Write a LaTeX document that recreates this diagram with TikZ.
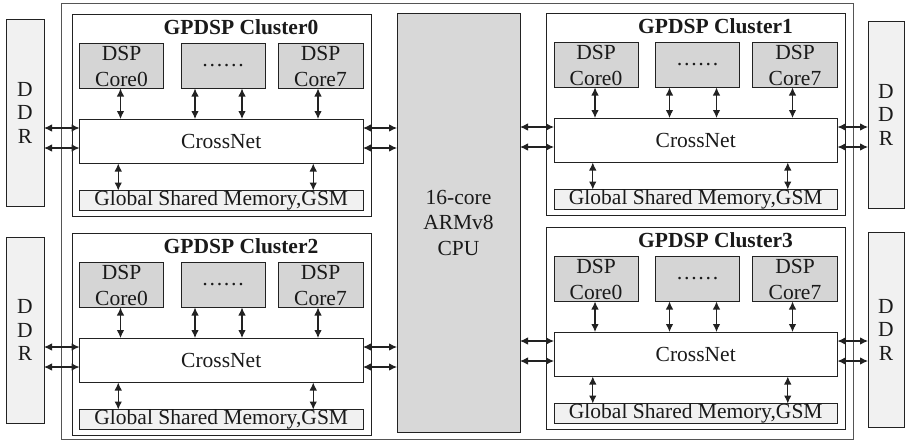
\documentclass[tikz,border=0pt]{standalone}
\usepackage{fontspec}
\setmainfont{Liberation Serif}
\usetikzlibrary{arrows.meta,calc}
\definecolor{linec}{HTML}{222222}
\definecolor{outerc}{HTML}{555555}
\definecolor{coreg}{HTML}{D5D5D5}
\definecolor{cpug}{HTML}{D8D8D8}
\definecolor{gsmg}{HTML}{F1F1F1}
\definecolor{ddrg}{HTML}{F1F1F1}
\definecolor{textc}{HTML}{1A1A1A}
\tikzset{
  box/.style={draw=linec, line width=1pt, inner sep=0pt, outer sep=0pt, text=textc},
  outerbox/.style={box, draw=outerc, fill=white},
  clusterbox/.style={box, fill=white},
  corebox/.style={box, fill=coreg, align=center, font=\fontsize{21.5}{26}\selectfont},
  cnbox/.style={box, fill=white},
  gsmbox/.style={box, fill=gsmg},
  ddrbox/.style={box, fill=ddrg, align=center, font=\fontsize{21.5}{23.5}\selectfont},
  cpubox/.style={box, fill=cpug, align=center, font=\fontsize{21.5}{25.5}\selectfont},
  titletext/.style={inner sep=0pt, outer sep=0pt, text=textc, font=\fontsize{21.5}{24}\bfseries\selectfont},
  arr/.style={{Latex[length=8pt,width=7.5pt]}-{Latex[length=8pt,width=7.5pt]}, draw=linec, line width=1.1pt},
}
\newcommand\mybox[7]{%
  \pgfmathsetmacro\bxw{(#4)-(#2)}%
  \pgfmathsetmacro\bxh{(#5)-(#3)}%
  \pgfmathsetmacro\bxcx{((#2)+(#4))/2}%
  \pgfmathsetmacro\bxcy{((#3)+(#5))/2}%
  \node[#6, minimum width=\bxw pt, minimum height=\bxh pt] (#1) at (\bxcx,\bxcy) {#7};%
}
% #1 id, #2 left x, #3 top y, #4 number
\newcommand\clusterblk[4]{%
  \mybox{#1}{#2}{#3}{#2+299}{#3+202}{clusterbox}{}
  \pgfmathsetmacro\tx{#2+169}\pgfmathsetmacro\ty{#3+20.5}%
  \node[titletext, anchor=base] (#1-t) at (\tx,\ty) {GPDSP Cluster#4};
  \mybox{#1-k0}{#2+7.5}{#3+29.5}{#2+91.5}{#3+74.5}{corebox}{DSP\\Core0}
  \mybox{#1-kd}{#2+109}{#3+29.5}{#2+193}{#3+74.5}{corebox}{……}
  \mybox{#1-k7}{#2+206}{#3+29.5}{#2+291}{#3+74.5}{corebox}{DSP\\Core7}
  \mybox{#1-cn}{#2+7.5}{#3+105}{#2+291}{#3+149.5}{cnbox}{CrossNet}
  \mybox{#1-gsm}{#2+7.5}{#3+176.5}{#2+291}{#3+196.5}{gsmbox}{Global Shared Memory,GSM}
  \coordinate (#1-v0) at ([xshift=-1pt]#1-k0.south);
  \coordinate (#1-v1) at ([xshift=-28pt]#1-kd.south);
  \coordinate (#1-v2) at ([xshift=19pt]#1-kd.south);
  \coordinate (#1-v3) at ([xshift=-2.5pt]#1-k7.south);
  \foreach \v in {v0,v1,v2,v3} {\draw[arr] (#1-\v) -- (#1-\v |- #1-cn.north);}
  \coordinate (#1-g1) at ([xshift=-103pt]#1-gsm.north);
  \coordinate (#1-g2) at ([xshift=92pt]#1-gsm.north);
  \foreach \g in {g1,g2} {\draw[arr] (#1-cn.south -| #1-\g) -- (#1-\g);}
  \coordinate (#1-w1) at ([yshift=-9pt]#1-cn.north west);
  \coordinate (#1-w2) at ([yshift=-29pt]#1-cn.north west);
  \coordinate (#1-e1) at ([yshift=-9pt]#1-cn.north east);
  \coordinate (#1-e2) at ([yshift=-29pt]#1-cn.north east);
}
\begin{document}
\begin{tikzpicture}[x=1pt, y=-1pt, font=\fontsize{21.5}{24}\selectfont]
\useasboundingbox[fill=white] (0,0) rectangle (905,442);
\mybox{outer}{61}{3}{853}{439}{outerbox}{}
\mybox{ddrA}{6}{19}{44}{206}{ddrbox}{D\\D\\R}
\mybox{ddrB}{6}{237}{44}{423}{ddrbox}{D\\D\\R}
\mybox{ddrC}{868}{21}{904}{208}{ddrbox}{D\\D\\R}
\mybox{ddrD}{868}{232}{904}{427}{ddrbox}{D\\D\\R}
\mybox{cpu}{397}{13}{520}{432}{cpubox}{16-core\\ARMv8\\CPU}
\clusterblk{c0}{72}{14}{0}
\clusterblk{c1}{546.5}{13}{1}
\clusterblk{c2}{72}{233}{2}
\clusterblk{c3}{546.5}{227}{3}
% left clusters
\foreach \c/\d in {c0/ddrA, c2/ddrB} {
  \draw[arr] (\d.east |- \c-w1) -- (\c-w1);
  \draw[arr] (\d.east |- \c-w2) -- (\c-w2);
  \draw[arr] (\c-e1) -- (cpu.west |- \c-e1);
  \draw[arr] (\c-e2) -- (cpu.west |- \c-e2);
}
% right clusters
\foreach \c/\d in {c1/ddrC, c3/ddrD} {
  \draw[arr] (cpu.east |- \c-w1) -- (\c-w1);
  \draw[arr] (cpu.east |- \c-w2) -- (\c-w2);
  \draw[arr] (\c-e1) -- (\d.west |- \c-e1);
  \draw[arr] (\c-e2) -- (\d.west |- \c-e2);
}
\end{tikzpicture}
\end{document}
